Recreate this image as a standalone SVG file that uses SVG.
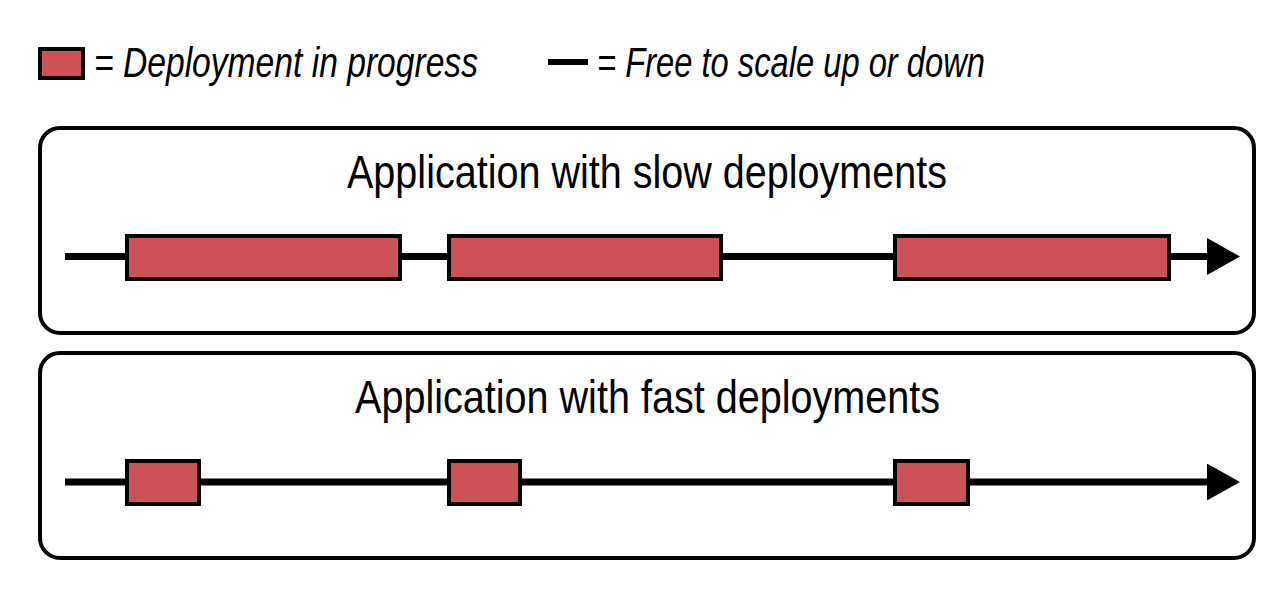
<svg xmlns="http://www.w3.org/2000/svg" width="1288" height="595" viewBox="0 0 1288 595">
<style>
.frame{fill:#fff;stroke:#000;stroke-width:4}
.dep{fill:#CD5257;stroke:#000;stroke-width:4}
.line{stroke:#000;stroke-width:7;fill:none}
.title{font-family:"Liberation Sans",Arial,sans-serif;font-size:46px;fill:#000;text-anchor:start}
.legend{font-family:"Liberation Sans",Arial,sans-serif;font-size:42px;font-style:italic;fill:#000}
</style>
<defs>
<marker id="arr" markerWidth="33" markerHeight="37" refX="0" refY="18.5" markerUnits="userSpaceOnUse" orient="auto">
<path d="M0,0 L33,18.5 L0,37 Z" fill="#000"/>
</marker>
</defs>
<rect width="1288" height="595" fill="#fff"/>
<g id="legend">
<rect class="dep" x="40" y="49" width="43" height="29"/>
<text class="legend" x="94" y="77" textLength="384" lengthAdjust="spacingAndGlyphs">= Deployment in progress</text>
<line x1="548" y1="62" x2="588" y2="62" stroke="#000" stroke-width="6"/>
<text class="legend" x="597" y="77" textLength="388" lengthAdjust="spacingAndGlyphs">= Free to scale up or down</text>
</g>
<g id="slow">
<rect class="frame" x="40" y="128" width="1214" height="205" rx="20"/>
<text class="title" x="347" y="188" textLength="600" lengthAdjust="spacingAndGlyphs">Application with slow deployments</text>
</g>
<g id="fast">
<rect class="frame" x="40" y="353" width="1214" height="205" rx="20"/>
<text class="title" x="355" y="413" textLength="585" lengthAdjust="spacingAndGlyphs">Application with fast deployments</text>
</g>
<g id="connectors">
<line class="line" x1="65" y1="256.5" x2="1207" y2="256.5" marker-end="url(#arr)"/>
<line class="line" x1="65" y1="482" x2="1207" y2="482" marker-end="url(#arr)"/>
</g>
<g id="slow-deployments">
<rect id="s1" class="dep" x="127" y="236" width="273" height="43"/>
<rect id="s2" class="dep" x="449" y="236" width="272" height="43"/>
<rect id="s3" class="dep" x="895" y="236" width="274" height="43"/>
</g>
<g id="fast-deployments">
<rect id="f1" class="dep" x="127" y="461" width="72" height="43"/>
<rect id="f2" class="dep" x="449" y="461" width="71" height="43"/>
<rect id="f3" class="dep" x="895" y="461" width="73" height="43"/>
</g>
</svg>
